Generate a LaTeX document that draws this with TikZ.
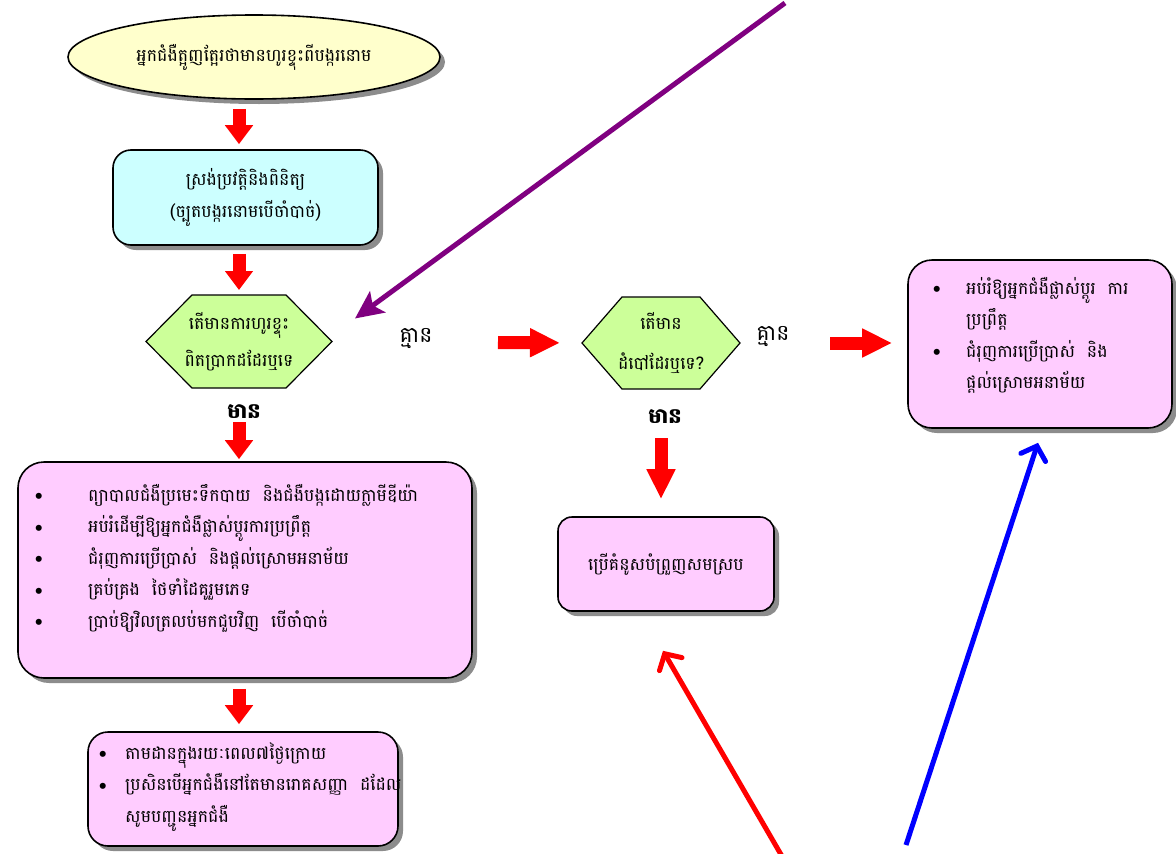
\documentclass[tikz,border=0pt]{standalone}
\usepackage{fontspec}
\newfontfamily\khmer[Script=Khmer]{Battambang}
\usetikzlibrary{shapes.geometric,shadows,arrows.meta,backgrounds}

\definecolor{paleyellow}{HTML}{FFFFCC}
\definecolor{palecyan}{HTML}{CCFFFF}
\definecolor{palegreen}{HTML}{CCFF99}
\definecolor{palepink}{HTML}{FFCCFF}
\definecolor{plum}{HTML}{800080}

\newcommand{\itm}[1]{\strut\makebox[#1][l]{\normalfont\fontsize{27}{27}\selectfont\raisebox{-2.5pt}{\textbullet}}}
\newcommand{\gap}[1]{\strut\makebox[#1]{}}

\tikzset{
  khtext/.style={font=\khmer\fontsize{17.4}{31.5}\selectfont},
  khbold/.style={font=\khmer\bfseries\fontsize{21}{24}\selectfont},
  khlarge/.style={font=\khmer\fontsize{22}{24}\selectfont},
  shadowed/.style={draw, line width=1.6pt,
    drop shadow={shadow xshift=5pt, shadow yshift=-5pt, fill=black!45, opacity=1}},
  roundbox/.style={shadowed, rectangle, rounded corners=#1, fill=palepink},
  roundbox/.default=16pt,
  decision/.style={khtext, align=center, inner sep=0pt, outer sep=0pt},
  hexline/.style={draw, line width=1.2pt, fill=palegreen},
  listtext/.style={khtext, align=left, anchor=north west, inner sep=0pt},
  shortarrow/.style={red, line width=13pt, -{Triangle[length=19pt,width=27pt]}},
  longarrow/.style={red, line width=13pt, -{Triangle[length=30pt,width=27pt]}},
  thinarrow/.style={line width=5pt, line cap=round,
    -{Straight Barb[length=12pt,width=26pt,line cap=round]}},
}

\begin{document}
\begin{tikzpicture}[x=1pt, y=-1pt]
  \useasboundingbox (0,0) rectangle (1176,854);

  % Left column
  \node[shadowed, ellipse, fill=paleyellow, minimum width=372pt, minimum height=84pt, khtext]
    (patient) at (254,57) {អ្នកជំងឺត្អូញត្អែរថាមានហូរខ្ទុះពីបង្ករនោម};
  \node[roundbox=18pt, fill=palecyan, minimum width=265pt, minimum height=95pt, khtext, align=center]
    (history) at (245.5,197.5) {ស្រង់ប្រវត្តិនិងពិនិត្យ\\(ច្បូតបង្ករនោមបើចាំបាច់)};
  \node[decision, minimum width=186pt, minimum height=93pt]
    (pus) at (239,341.5) {តើមានការហូរខ្ទុះ\\[5pt]ពិតប្រាកដដែរឬទេ};
  \node[khbold] (yesA) at (244,412) {មាន};
  \node[khlarge] (noA) at (416,339) {គ្មាន};

  \node[roundbox=26pt, minimum width=454pt, minimum height=216pt] (treat) at (245,570) {};
  \node[listtext] (treatlist) at (29,479) {%
    \itm{59pt}ព្យាបាលជំងឺប្រមេះទឹកបាយ~~និងជំងឺបង្កដោយក្លាមីឌីយ៉ា\\
    \itm{59pt}អប់រំដើម្បីឱ្យអ្នកជំងឺផ្លាស់ប្តូរការប្រព្រឹត្ត\\
    \itm{59pt}ជំរុញការប្រើប្រាស់~~និងផ្តល់ស្រោមអនាម័យ\\
    \itm{59pt}គ្រប់គ្រង~~ថៃទាំដៃគូរួមភេទ\\
    \itm{59pt}ប្រាប់ឱ្យវិលត្រលប់មកជួបវិញ~~បើចាំបាច់};

  \node[roundbox=20pt, minimum width=310pt, minimum height=114pt] (followup) at (243,789) {};
  \node[listtext] (followlist) at (93,737) {%
    \itm{32pt}តាមដានក្នុងរយៈពេល៧ថ្ងៃក្រោយ\\
    \itm{32pt}ប្រសិនបើអ្នកជំងឺនៅតែមានរោគសញ្ញា~~ដដែល\\
    \gap{32pt}សូមបញ្ជូនអ្នកជំងឺ};

  % Middle column
  \node[decision, minimum width=158pt, minimum height=92pt]
    (sore) at (661,343) {តើមាន\\[9pt]ដំបៅដែរឬទេ?};
  \node[khlarge] (noB) at (773,337) {គ្មាន};
  \node[khbold] (yesB) at (665,417) {មាន};
  \node[roundbox=14pt, minimum width=216pt, minimum height=94pt, khtext]
    (chart) at (666,564) {ប្រើគំនូសបំព្រួញសមស្រប};

  % Right column
  \node[roundbox=24pt, minimum width=264pt, minimum height=168pt] (counsel) at (1040,344) {};
  \node[listtext] (counsellist) at (927,272) {%
    \itm{39pt}អប់រំឱ្យអ្នកជំងឺផ្លាស់ប្តូរ~~ការ\\
    \gap{39pt}ប្រព្រឹត្ត\\
    \itm{39pt}ជំរុញការប្រើប្រាស់~~និង\\
    \gap{39pt}ផ្តល់ស្រោមអនាម័យ};

  % Hexagons behind the two questions
  \begin{scope}[on background layer]
    \fill[white] (0,0) rectangle (1176,854);
    \foreach \n/\e in {pus/46, sore/40}
      \draw[hexline] (\n.west) -- ([shift={(\e,0)}]\n.north west) -- ([shift={(-\e,0)}]\n.north east)
        -- (\n.east) -- ([shift={(-\e,0)}]\n.south east) -- ([shift={(\e,0)}]\n.south west) -- cycle;
  \end{scope}

  % Red block arrows
  \draw[shortarrow, shorten <=9pt, shorten >=5pt] (patient.south -| pus) -- (history.north -| pus);
  \draw[shortarrow, shorten <=8pt, shorten >=5pt] (history.south -| pus) -- (pus.north);
  \draw[shortarrow, shorten <=34pt, shorten >=2pt] (pus.south) -- (treat.north -| pus);
  \draw[shortarrow, shorten <=10pt, shorten >=7pt] (treat.south -| pus) -- (followup.north -| pus);
  \draw[longarrow, shorten <=166pt, shorten >=22pt] (pus.east) -- (sore.west);
  \draw[longarrow, shorten <=90pt, shorten >=15pt] (sore.east) -- (counsel.west |- sore.east);
  \draw[longarrow, shorten <=49pt, shorten >=17pt] (sore.south) -- (chart.north -| sore);

  % Loose arrows
  \coordinate (topsrc) at (785,3);
  \draw[plum, line width=5pt, -{Stealth[length=28pt,width=26pt,inset=6pt]}]
    (topsrc) -- ([shift={(23,-23)}]pus.east);
  \coordinate (redsrc) at (783,858);
  \draw[thinarrow, red] (redsrc) -- ([shift={(-3,39)}]chart.south);
  \coordinate (bluesrc) at (906,845);
  \draw[thinarrow, blue, line cap=butt] (bluesrc) -- ([shift={(-2,14)}]counsel.south);
\end{tikzpicture}
\end{document}
